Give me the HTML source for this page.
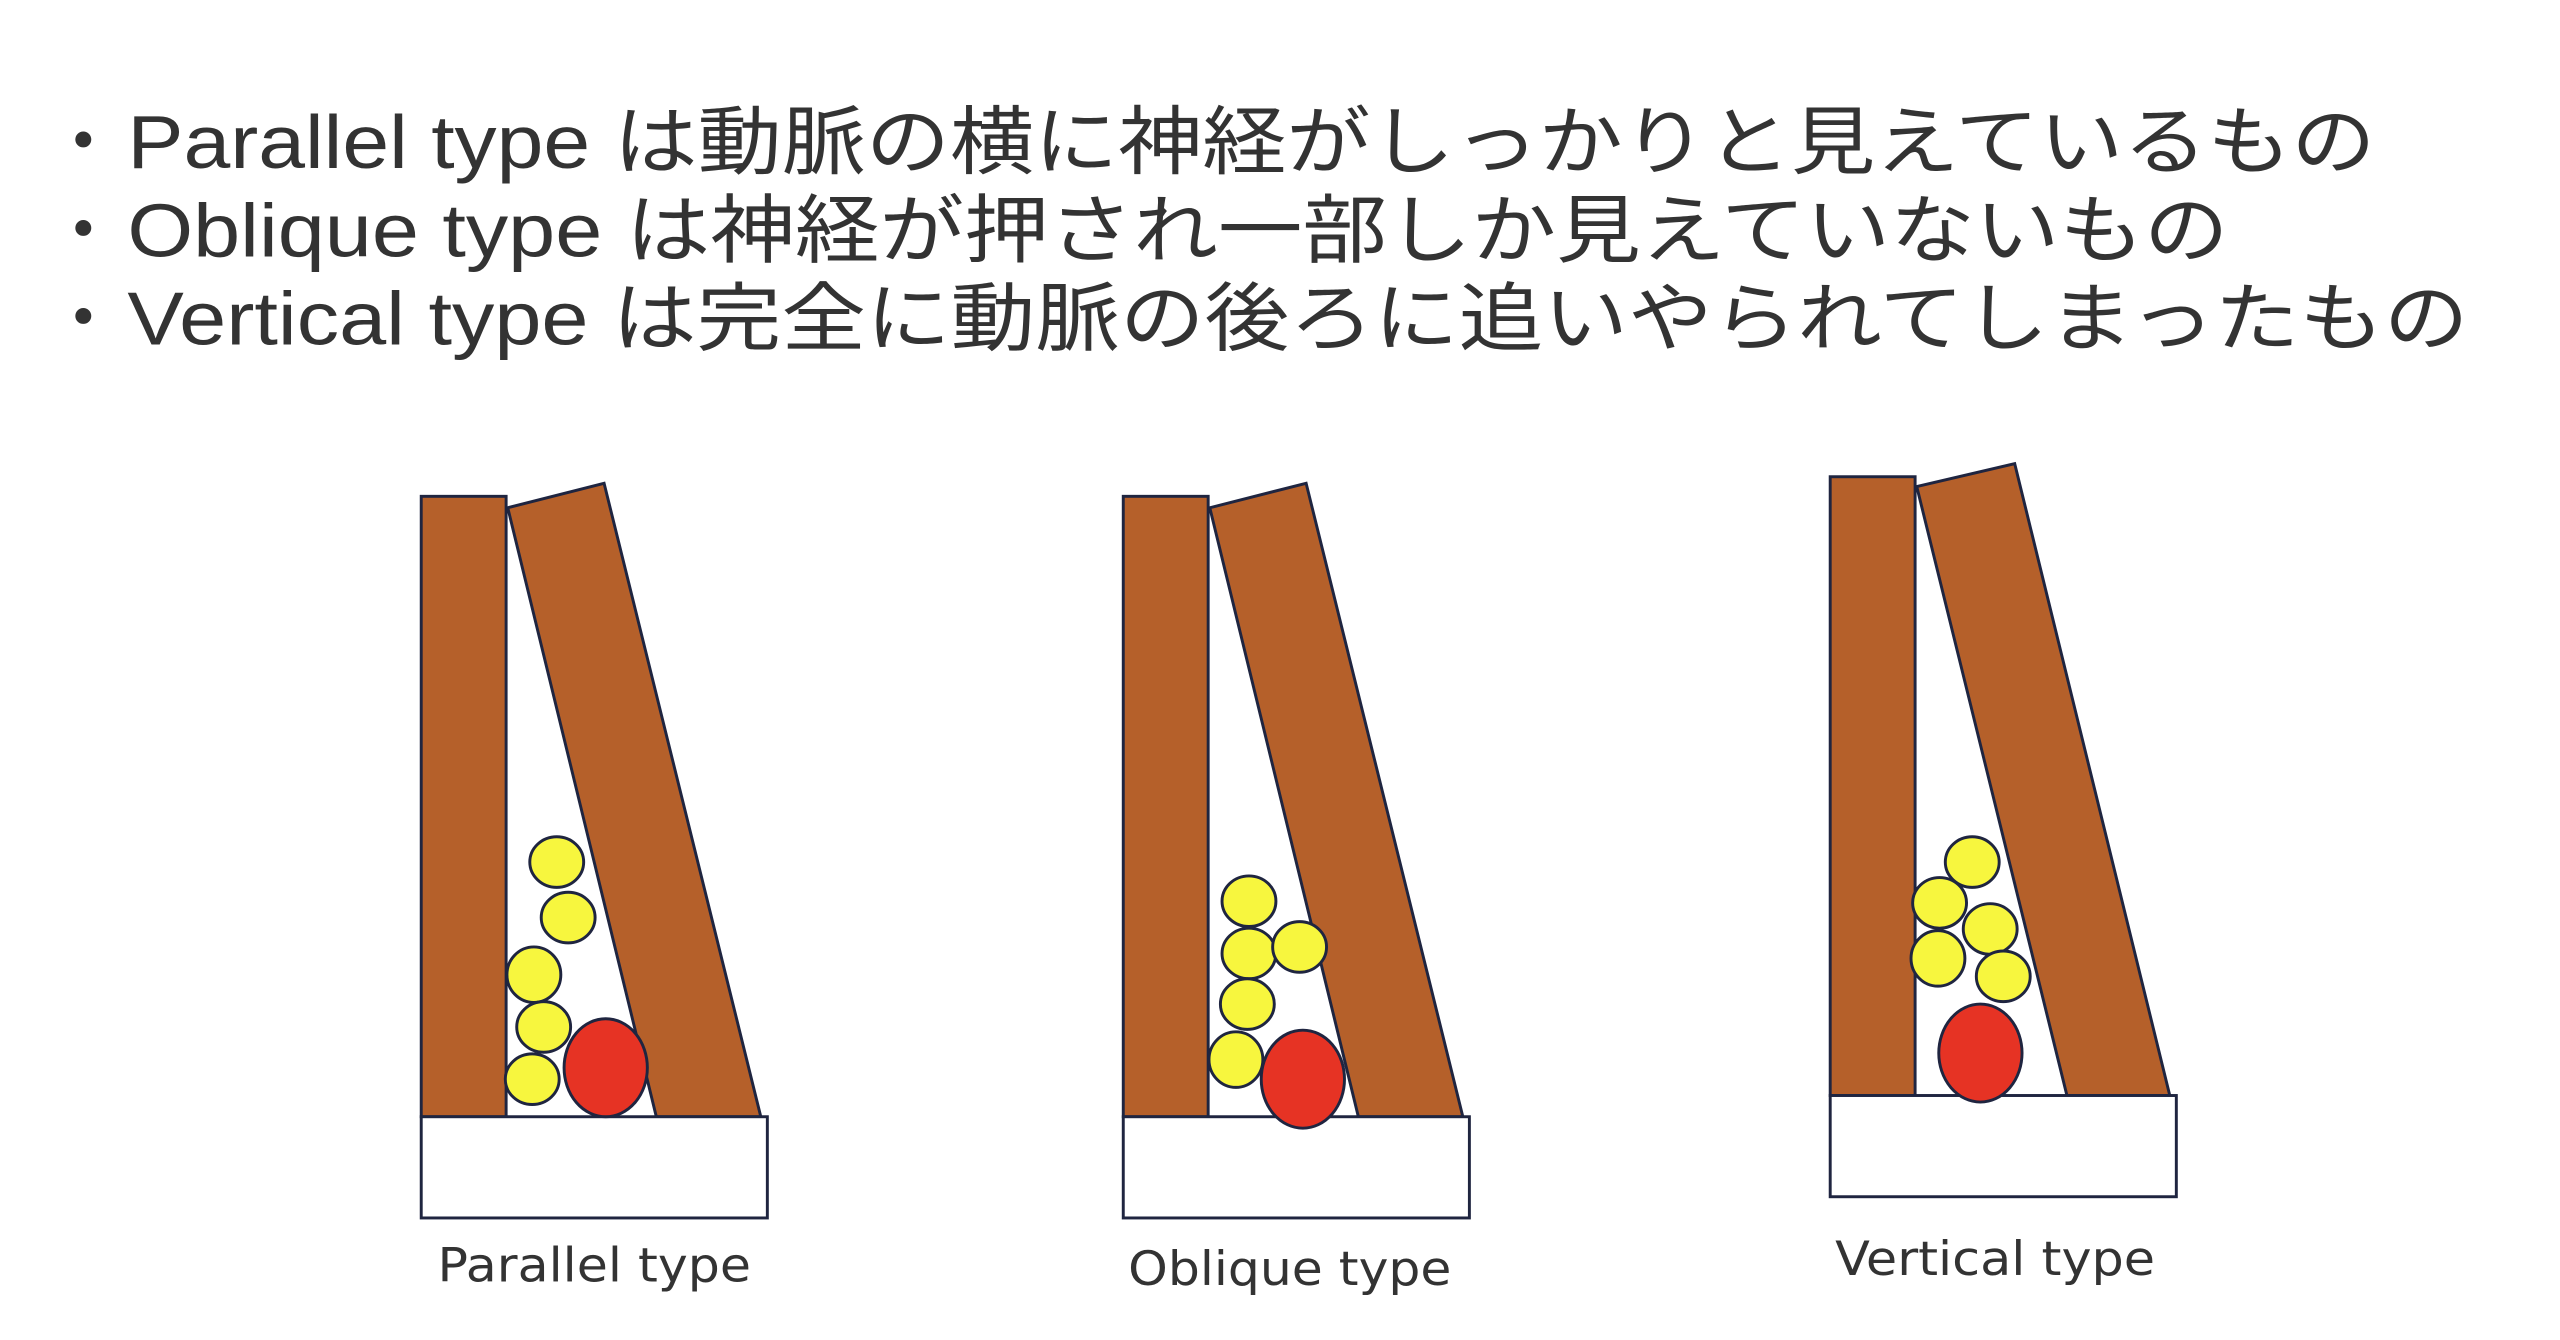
<!DOCTYPE html>
<html><head><meta charset="utf-8"><style>
html,body{margin:0;padding:0;background:#fff;}
svg{display:block;}
</style></head><body>
<svg width="2560" height="1340" viewBox="0 0 1568 820.75" preserveAspectRatio="none" xmlns="http://www.w3.org/2000/svg">
<rect width="1568" height="821" fill="#fff"/>
<g font-family="'Liberation Sans','Noto Sans CJK JP',sans-serif" fill="#333" font-size="46">
<text x="28" y="103">・</text>
<text x="78" y="103" textLength="1377" lengthAdjust="spacingAndGlyphs">Parallel type は動脈の横に神経がしっかりと見えているもの</text>
<text x="28" y="157">・</text>
<text x="78" y="157" textLength="1287" lengthAdjust="spacingAndGlyphs">Oblique type は神経が押され一部しか見えていないもの</text>
<text x="28" y="211">・</text>
<text x="78" y="211" textLength="1434" lengthAdjust="spacingAndGlyphs">Vertical type は完全に動脈の後ろに追いやられてしまったもの</text>
</g>
<g stroke="#1f2540" stroke-width="1.8">
<rect x="258" y="304" width="52" height="380" fill="#b5602a"/>
<polygon points="311,311 370,296 466,684 402,684" fill="#b5602a"/>
<rect x="258" y="684" width="212" height="62" fill="#fff"/>
<g fill="#f7f63e">
<ellipse cx="341" cy="528" rx="16.5" ry="15.5"/>
<ellipse cx="348" cy="562" rx="16.5" ry="15.5"/>
<ellipse cx="327" cy="597" rx="16.5" ry="17"/>
<ellipse cx="333" cy="629" rx="16.5" ry="15.5"/>
<ellipse cx="326" cy="661" rx="16.5" ry="15.5"/>
</g>
<ellipse cx="371" cy="654" rx="25.5" ry="30" fill="#e63324"/>
<rect x="688" y="304" width="52" height="380" fill="#b5602a"/>
<polygon points="741,311 800,296 896,684 832,684" fill="#b5602a"/>
<rect x="688" y="684" width="212" height="62" fill="#fff"/>
<g fill="#f7f63e">
<ellipse cx="765" cy="552" rx="16.5" ry="15.5"/>
<ellipse cx="765" cy="584" rx="16.5" ry="15.5"/>
<ellipse cx="796" cy="580" rx="16.5" ry="15.5"/>
<ellipse cx="764" cy="615" rx="16.5" ry="15.5"/>
<ellipse cx="757" cy="649" rx="16.5" ry="17"/>
</g>
<ellipse cx="798" cy="661" rx="25.5" ry="30" fill="#e63324"/>
<rect x="1121" y="292" width="52" height="379" fill="#b5602a"/>
<polygon points="1174,298 1234,284 1329,671 1266,671" fill="#b5602a"/>
<rect x="1121" y="671" width="212" height="62" fill="#fff"/>
<g fill="#f7f63e">
<ellipse cx="1208" cy="528" rx="16.5" ry="15.5"/>
<ellipse cx="1188" cy="553" rx="16.5" ry="15.5"/>
<ellipse cx="1219" cy="569" rx="16.5" ry="15.5"/>
<ellipse cx="1187" cy="587" rx="16.5" ry="17"/>
<ellipse cx="1227" cy="598" rx="16.5" ry="15.5"/>
</g>
<ellipse cx="1213" cy="645" rx="25.5" ry="30" fill="#e63324"/>
</g>
<g font-family="'DejaVu Sans','Liberation Sans',sans-serif" fill="#333" font-size="29" text-anchor="middle">
<text x="364" y="785" textLength="192" lengthAdjust="spacingAndGlyphs">Parallel type</text>
<text x="790" y="787" textLength="198" lengthAdjust="spacingAndGlyphs">Oblique type</text>
<text x="1222" y="781" textLength="196" lengthAdjust="spacingAndGlyphs">Vertical type</text>
</g>
</svg>
</body></html>
